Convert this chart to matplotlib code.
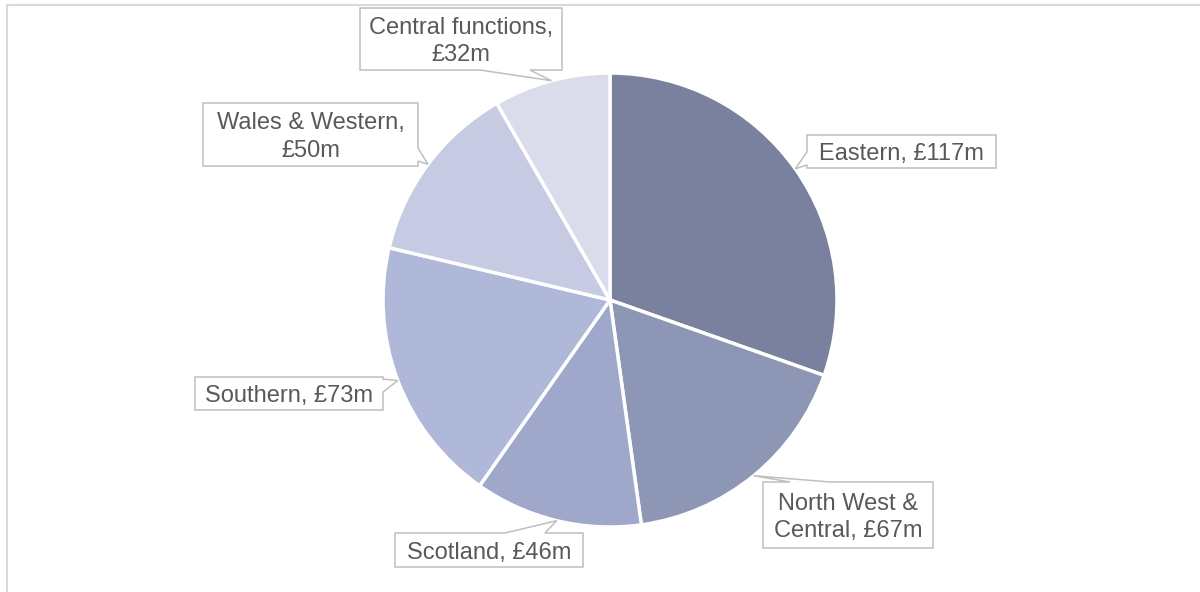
import matplotlib.pyplot as plt
import numpy as np
from matplotlib.patches import Polygon, Rectangle

plt.rcParams["font.family"] = ["Liberation Sans", "DejaVu Sans"]

# Spend by region, £m
regions = ["Eastern", "North West &\nCentral", "Scotland", "Southern",
           "Wales & Western", "Central functions"]
spend = [117, 67, 46, 73, 50, 32]
label_sep = [", ", ", ", ", ", ", ", ",\n", ",\n"]

COLORS = ["#7A819E", "#8E96B6", "#9FA8CA", "#AFB8D8", "#C6CAE2", "#DADCEB"]
TEXT = "#595959"
BOX_EDGE = "#BFBFBF"

W, H = 1200, 592
CX, CY, R = 610, 300, 227

# callout boxes in pixel space (x0, y0, x1, y1 from top-left), pointer side and base
BOXES = [
    ((807, 135, 996, 168), "left", (152, 165)),
    ((763, 482, 933, 548), "top", (790, 830)),
    ((395, 533, 583, 567), "top", (505, 545)),
    ((195, 377, 383, 410), "right", (379, 392)),
    ((203, 103, 418, 166), "right", (148, 161)),
    ((360, 8, 562, 70), "bottom", (480, 530)),
]


def fy(y):
    return H - y


def callout(ax, box, side, base, tip, text):
    x0, y0, x1, y1 = box
    a, b = base
    pts = [(x0, y0)]
    if side == "top":
        pts += [(a, y0), tip, (b, y0)]
    pts.append((x1, y0))
    if side == "right":
        pts += [(x1, a), tip, (x1, b)]
    pts.append((x1, y1))
    if side == "bottom":
        pts += [(b, y1), tip, (a, y1)]
    pts.append((x0, y1))
    if side == "left":
        pts += [(x0, b), tip, (x0, a)]
    pts = [(x, fy(y)) for x, y in pts]
    ax.add_patch(Polygon(pts, closed=True, facecolor="white",
                         edgecolor=BOX_EDGE, linewidth=1.1, zorder=5))
    ax.text((x0 + x1) / 2, fy((y0 + y1) / 2 + 2.5), text, ha="center", va="center",
            fontsize=17, color=TEXT, linespacing=1.3, zorder=6)


fig = plt.figure(figsize=(12, 5.92), dpi=100)
ax = fig.add_axes([0, 0, 1, 1])

# chart area border
ax.add_patch(Rectangle((7, -20), 1220, fy(5) + 20, facecolor="none",
                       edgecolor="#D9D9D9", linewidth=1.5, zorder=1))

wedges, _ = ax.pie(spend, colors=COLORS, startangle=90, counterclock=False,
                   center=(CX, fy(CY)), radius=R, frame=True,
                   wedgeprops=dict(edgecolor="white", linewidth=2.5))
ax.set_xlim(0, W)
ax.set_ylim(0, H)
ax.set_aspect("equal")
ax.axis("off")

for w, name, v, sep, (box, side, base) in zip(wedges, regions, spend, label_sep, BOXES):
    mid = np.deg2rad((w.theta1 + w.theta2) / 2)
    tip = (CX + R * np.cos(mid), CY - R * np.sin(mid))
    callout(ax, box, side, base, tip, f"{name}{sep}£{v}m")

plt.savefig("out.png", dpi=100)
plt.close()
